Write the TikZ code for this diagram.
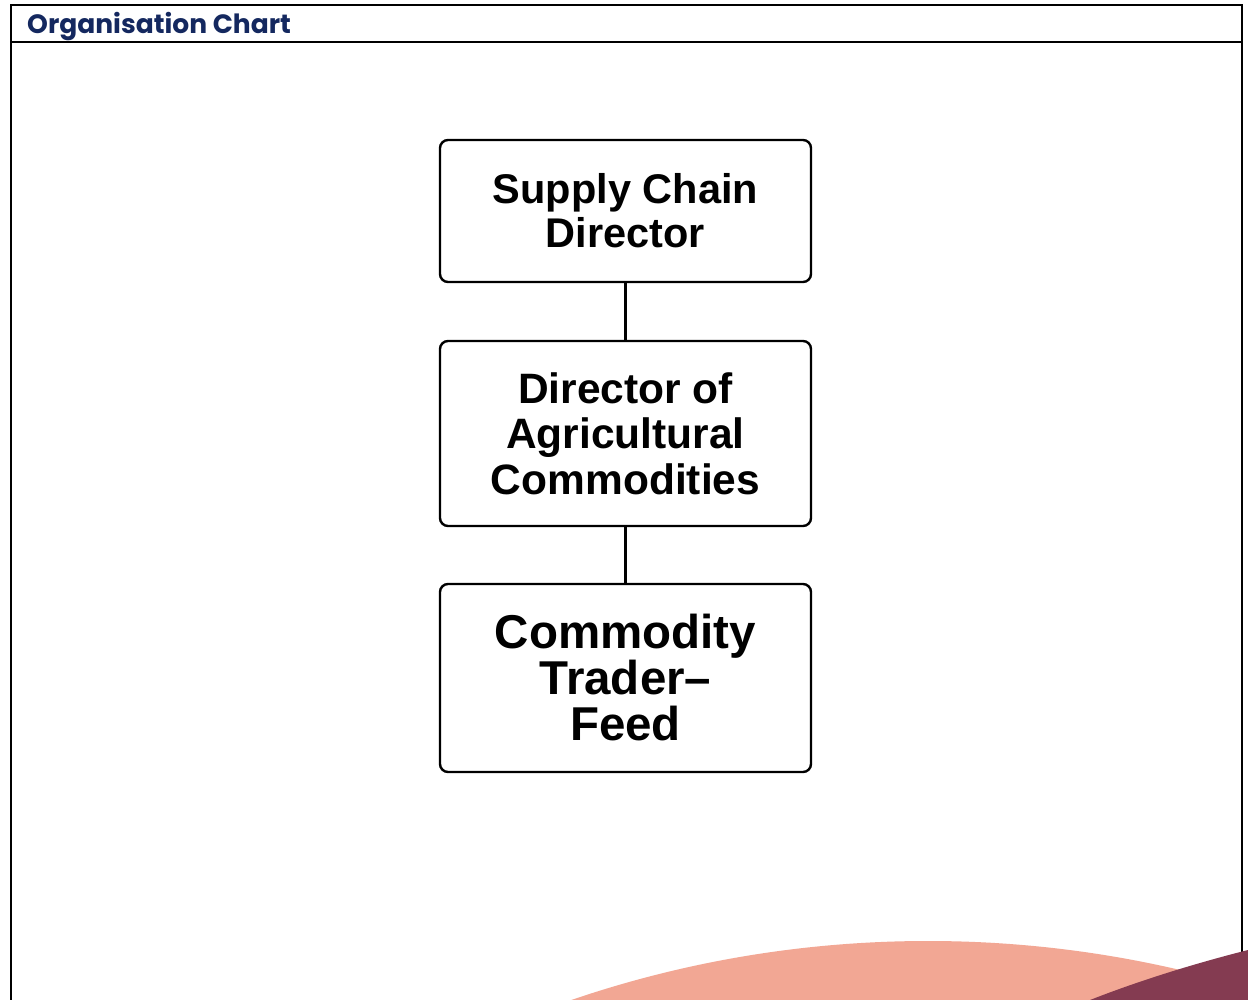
\documentclass[tikz,border=0pt]{standalone}
\usepackage{fontspec}
\setmainfont{Liberation Sans}
\newfontfamily\headfont{Poppins}
\definecolor{navy}{HTML}{14285F}
\definecolor{salmon}{HTML}{F2A794}
\definecolor{maroon}{HTML}{843B51}
\begin{document}
\begin{tikzpicture}[x=1pt,y=-1pt,
  orgbox/.style={draw=black, line width=2.4pt, rounded corners=8pt, fill=white,
    minimum width=371pt, align=center, inner sep=0pt},
  frame/.style={draw=black, line width=2.6pt},
  link/.style={draw=black, line width=2.4pt}]
\useasboundingbox (0,0) rectangle (1248,1000);
\fill[white] (0,0) rectangle (1248,1000);
% frame
\draw[frame] (11,1002) -- (11,5) -- (1242,5) -- (1242,1002);
\draw[frame] (11,42) -- (1242,42);
\node[anchor=base west, text=navy, inner sep=0pt] (title) at (27,34)
  {\headfont\fontsize{26.5}{30}\selectfont\bfseries Organisation Chart};
% bottom decorations
\begin{scope}
\clip (0,0) rectangle (1248,1000);
\fill[salmon] (928,2043) circle (1102);
\fill[maroon] (1085,1002) .. controls (1140,980) and (1200,962) .. (1252,949) -- (1252,1002) -- cycle;
\end{scope}
% boxes
\node[orgbox, minimum height=142pt, font=\fontsize{41.5}{44}\selectfont\bfseries] (scd) at (625.5,211)
  {Supply Chain\\Director};
\node[orgbox, minimum height=185pt, font=\fontsize{42.5}{45.5}\selectfont\bfseries] (dac) at (625.5,433.5)
  {Director of\\Agricultural\\Commodities};
\node[orgbox, minimum height=188pt, font=\fontsize{47.5}{46}\selectfont\bfseries] (ctf) at (625.5,678)
  {Commodity\\Trader\textendash\\Feed};
\draw[link] (scd.south) -- (dac.north);
\draw[link] (dac.south) -- (ctf.north);
\end{tikzpicture}
\end{document}
